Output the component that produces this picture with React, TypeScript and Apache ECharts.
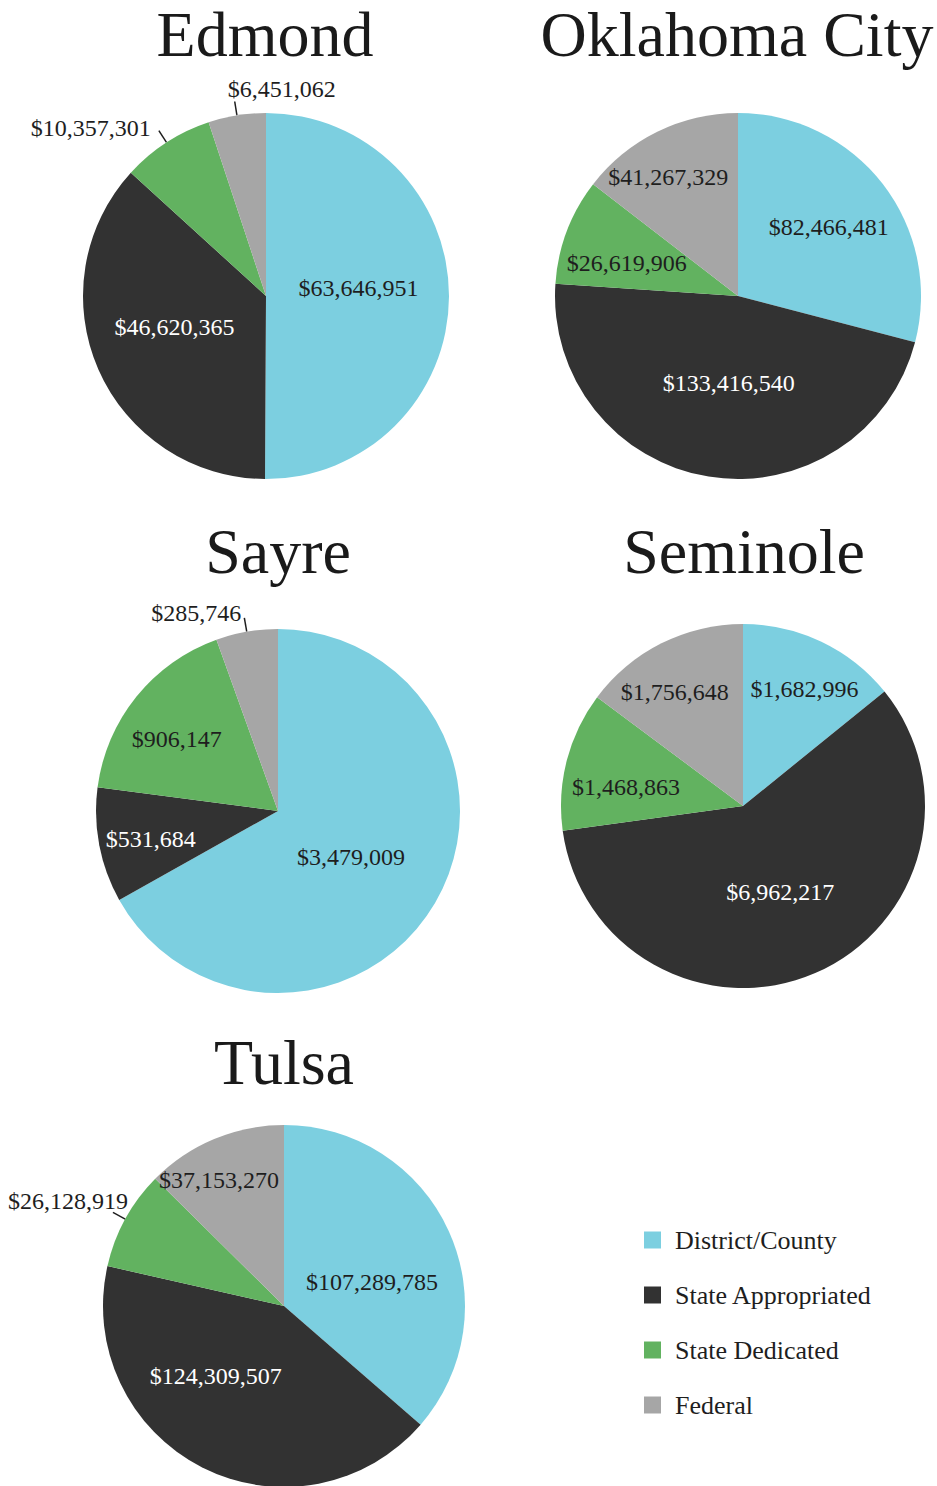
import React, { useEffect, useRef } from "react";
import * as echarts from "echarts";

const CATEGORIES = ["District/County", "State Appropriated", "State Dedicated", "Federal"];
const CITIES = ["Edmond", "Oklahoma City", "Sayre", "Seminole", "Tulsa"];
const EDMOND = [63646951, 46620365, 10357301, 6451062];
const OKLAHOMA_CITY = [82466481, 133416540, 26619906, 41267329];
const SAYRE = [3479009, 531684, 906147, 285746];
const SEMINOLE = [1682996, 6962217, 1468863, 1756648];
const TULSA = [107289785, 124309507, 26128919, 37153270];
const VALUES = [EDMOND, OKLAHOMA_CITY, SAYRE, SEMINOLE, TULSA];

const COLORS = ["#7ccfe0", "#323232", "#62b260", "#a6a6a6"];
const FONT = "'Liberation Serif', 'DejaVu Serif', serif";

// layout: pie centre and radius, title position
const PIES = [
  { cx: 266, cy: 296, r: 183, tx: 265, ty: 34 },
  { cx: 738, cy: 296, r: 183, tx: 737, ty: 34 },
  { cx: 278, cy: 811, r: 182, tx: 278, ty: 551 },
  { cx: 743, cy: 806, r: 182, tx: 744, ty: 551 },
  { cx: 284, cy: 1306, r: 181, tx: 284, ty: 1062 },
];
// which slices carry an outside label
const OUTSIDE = [
  [false, false, true, true],
  [false, false, false, false],
  [false, false, false, true],
  [false, false, false, false],
  [false, false, true, false],
];
// label nudges [dx, dy]
const NUDGE = [
  [[-2, -8], [-5, -7], [-3, -3], [106, -13]],
  [[16, -11], [6, -6], [-23, 0], [-28, -34]],
  [[-8, -2], [-35, 10], [-28, -13], [2, -5]],
  [[21, -32], [0, 0], [-26, 4], [-26, -30]],
  [[3, 15], [-26, -13], [20, -11], [-29, -40]],
];

const fmt = (v: number) => "$" + v.toLocaleString("en-US");

export default function App() {
  const ref = useRef<HTMLDivElement>(null);
  useEffect(() => {
    if (!ref.current) return;
    const chart = echarts.init(ref.current, undefined, { renderer: "svg" });
    const series = VALUES.map((vals, si) => ({
      type: "pie",
      center: [PIES[si].cx, PIES[si].cy],
      radius: [0, PIES[si].r],
      startAngle: 90,
      clockwise: true,
      avoidLabelOverlap: false,
      itemStyle: { borderWidth: 0 },
      emphasis: { disabled: true },
      labelLayout: (p: any) => {
        const n = NUDGE[si][p.dataIndex];
        return { dx: n[0], dy: n[1] };
      },
      data: vals.map((v, i) => ({
        value: v,
        name: CATEGORIES[i],
        itemStyle: { color: COLORS[i] },
        label: {
          show: true,
          position: OUTSIDE[si][i] ? "outside" : "inside",
          formatter: fmt(v),
          color: i === 1 && !OUTSIDE[si][i] ? "#ffffff" : "#1e1e1e",
          fontSize: 24,
          fontFamily: FONT,
        },
        labelLine: {
          show: OUTSIDE[si][i],
          length: 14,
          length2: 0,
          lineStyle: { color: "#1e1e1e", width: 1.5 },
        },
      })),
    }));
    chart.setOption({
      animation: false,
      backgroundColor: "#ffffff",
      color: COLORS,
      legend: {
        orient: "vertical",
        left: 639,
        top: 1222,
        icon: "rect",
        itemWidth: 17,
        itemHeight: 17,
        itemGap: 29,
        data: CATEGORIES,
        selectedMode: false,
        textStyle: {
          fontFamily: FONT,
          fontSize: 26,
          color: "#1e1e1e",
          padding: [0, 0, 0, 9],
        },
      },
      graphic: CITIES.map((c, i) => ({
        type: "text",
        x: PIES[i].tx,
        y: PIES[i].ty,
        style: {
          text: c,
          fontSize: 64,
          fontFamily: FONT,
          fill: "#1a1a1a",
          align: "center",
          verticalAlign: "middle",
        },
      })),
      series,
    });
    return () => chart.dispose();
  }, []);
  return (
    <div
      ref={ref}
      style={{ position: "absolute", left: 0, top: 0, width: 937, height: 1486 }}
    />
  );
}
